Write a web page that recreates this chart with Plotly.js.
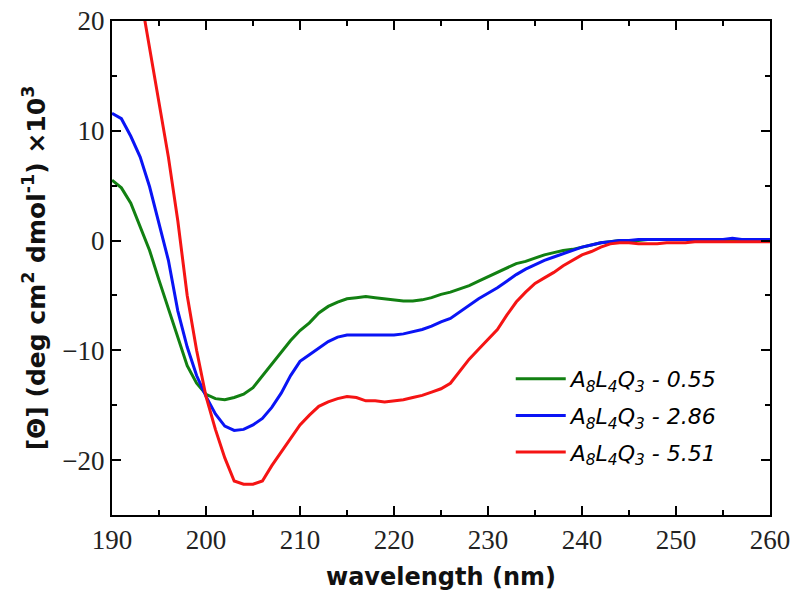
<!DOCTYPE html>
<html>
<head>
<meta charset="utf-8">
<script src="https://cdn.plot.ly/plotly-3.0.1.min.js"></script>
<style>html,body{margin:0;padding:0;background:#fff;}#chart{width:800px;height:601px;}</style>
</head>
<body>
<div id="chart"></div>
<script>
// wavelength (nm)
const wavelengthAll = [190,191,192,193,194,195,196,197,198,199,200,201,202,203,204,205,206,207,208,209,210,211,212,213,214,215,216,217,218,219,220,221,222,223,224,225,226,227,228,229,230,231,232,233,234,235,236,237,238,239,240,241,242,243,244,245,246,247,248,249,250,251,252,253,254,255,256,257,258,259,260];
const wavelengthRed = wavelengthAll.slice(3);

// [Θ] ×10^3
const green055 = [5.5,4.8,3.4,1.3,-0.9,-3.6,-6.2,-9.0,-11.4,-13.0,-14.0,-14.4,-14.5,-14.3,-14.0,-13.4,-12.3,-11.2,-10.1,-9.1,-8.2,-7.5,-6.6,-6.0,-5.6,-5.3,-5.2,-5.1,-5.2,-5.3,-5.4,-5.5,-5.5,-5.4,-5.2,-4.9,-4.7,-4.4,-4.1,-3.7,-3.3,-2.9,-2.5,-2.1,-1.9,-1.6,-1.3,-1.1,-0.9,-0.8,-0.6,-0.4,-0.2,-0.1,0.0,0.0,0.0,0.1,0.1,0.1,0.1,0.1,0.1,0.1,0.1,0.1,0.1,0.1,0.1,0.1,0.1];
const blue286 = [11.6,11.1,9.5,7.6,4.9,1.5,-1.8,-6.4,-9.7,-12.3,-14.2,-15.8,-16.9,-17.3,-17.2,-16.8,-16.2,-15.2,-13.9,-12.3,-11.0,-10.4,-9.8,-9.2,-8.8,-8.6,-8.6,-8.6,-8.6,-8.6,-8.6,-8.5,-8.3,-8.1,-7.8,-7.4,-7.1,-6.5,-5.9,-5.3,-4.8,-4.3,-3.7,-3.1,-2.6,-2.2,-1.8,-1.5,-1.2,-0.9,-0.6,-0.4,-0.2,-0.1,0.0,0.0,0.1,0.1,0.1,0.1,0.1,0.1,0.1,0.1,0.1,0.1,0.2,0.1,0.1,0.1,0.1];
const red551 = [22.5,17.4,12.4,7.6,1.8,-5.0,-10.0,-14.2,-17.2,-19.8,-21.9,-22.2,-22.2,-21.9,-20.5,-19.3,-18.0,-16.8,-15.9,-15.1,-14.7,-14.4,-14.2,-14.3,-14.6,-14.6,-14.7,-14.6,-14.5,-14.3,-14.1,-13.8,-13.5,-13.0,-11.9,-10.8,-9.9,-9.0,-8.1,-6.8,-5.6,-4.7,-3.9,-3.4,-2.9,-2.3,-1.8,-1.3,-1.0,-0.6,-0.3,-0.2,-0.2,-0.3,-0.3,-0.3,-0.2,-0.2,-0.2,-0.1,-0.1,-0.1,-0.1,-0.1,-0.1,-0.1,-0.1,-0.1];

const seriesNames = [
  '<i>A<sub>8</sub>L<sub>4</sub>Q<sub>3</sub> - 0.55</i>',
  '<i>A<sub>8</sub>L<sub>4</sub>Q<sub>3</sub> - 2.86</i>',
  '<i>A<sub>8</sub>L<sub>4</sub>Q<sub>3</sub> - 5.51</i>'
];
const xTickVals = [190,200,210,220,230,240,250,260];
const yTickVals = [-20,-10,0,10,20];

const traces = [
  {x: wavelengthAll, y: green055, name: seriesNames[0], legendgroup: 'g1', mode: 'lines', line: {color: '#128012', width: 3}},
  {x: wavelengthAll, y: blue286, name: seriesNames[1], legendgroup: 'g2', mode: 'lines', line: {color: '#0a14f5', width: 3}},
  {x: wavelengthRed, y: red551, name: seriesNames[2], legendgroup: 'g3', mode: 'lines', line: {color: '#f51414', width: 3}}
];

const axisCommon = {
  showgrid: false, zeroline: false, showline: true, linecolor: '#000', linewidth: 2,
  mirror: 'allticks', ticks: 'inside', ticklen: 9, tickwidth: 2, tickcolor: '#000',
  tickfont: {family: 'Liberation Serif, Times New Roman, serif', size: 27, color: '#222'}
};

const layout = {
  width: 800, height: 601,
  margin: {l: 112, r: 30, t: 21, b: 86},
  paper_bgcolor: '#fff', plot_bgcolor: '#fff',
  showlegend: true,
  legend: {
    x: 0.606, y: 0.085, xanchor: 'left', yanchor: 'bottom',
    bgcolor: 'rgba(0,0,0,0)', borderwidth: 0, itemwidth: 50,
    font: {family: 'DejaVu Sans, sans-serif', size: 22, color: '#000'},
    tracegroupgap: 5
  },
  xaxis: Object.assign({}, axisCommon, {
    range: [190, 260], tickvals: xTickVals,
    minor: {dtick: 5, tick0: 190, ticks: 'inside', ticklen: 5, tickwidth: 2, tickcolor: '#000'},
    title: {text: '<b>wavelength (nm)</b>', font: {family: 'DejaVu Sans, sans-serif', size: 24, color: '#111'}, standoff: 14}
  }),
  yaxis: Object.assign({}, axisCommon, {
    range: [-25, 20], tickvals: yTickVals,
    minor: {dtick: 5, tick0: -25, ticks: 'inside', ticklen: 5, tickwidth: 2, tickcolor: '#000'},
    title: {text: '<b>[Θ] (deg cm<sup>2</sup> dmol<sup>-1</sup>) ×10<sup>3</sup></b>', font: {family: 'DejaVu Sans, sans-serif', size: 25, color: '#111'}, standoff: 10}
  })
};

Plotly.newPlot('chart', traces, layout, {displayModeBar: false, staticPlot: true});
</script>
</body>
</html>
